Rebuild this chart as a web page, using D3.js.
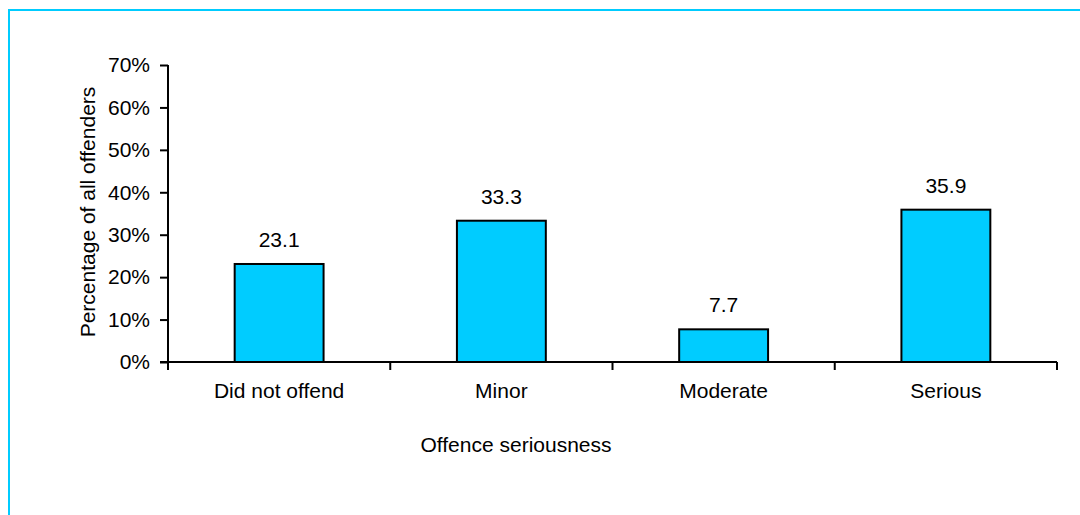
<!DOCTYPE html>
<meta charset="utf-8">
<style>
body{ margin:0; background:#fff; }
text{ font-family:"Liberation Sans", Arial, sans-serif; font-size:21px; fill:#000; }
.axis path, .axis line{ stroke:#000; stroke-width:2px; }
.axis text{ font-size:21px; font-family:"Liberation Sans", Arial, sans-serif; }
</style>
<body>
<script src="https://d3js.org/d3.v7.min.js"></script>
<script>
// chart data
var categories = ["Did not offend", "Minor", "Moderate", "Serious"];
var values = [23.1, 33.3, 7.7, 35.9];
var yTicks = [0, 10, 20, 30, 40, 50, 60, 70];

var width = 1080, height = 515;
var svg = d3.select("body").append("svg").attr("width", width).attr("height", height);

// light blue frame, top and left
svg.append("line").attr("x1", 9).attr("x2", width).attr("y1", 10).attr("y2", 10)
   .style("stroke", "#00ccff").style("stroke-width", 2);
svg.append("line").attr("x1", 9).attr("x2", 9).attr("y1", 9).attr("y2", height)
   .style("stroke", "#00ccff").style("stroke-width", 2);

var plotL = 168, plotR = 1057, plotT = 65, plotB = 362;

var x = d3.scaleBand().domain(categories).range([plotL, plotR]).padding(0);
var y = d3.scaleLinear().domain([0, 70]).range([plotB, plotT]);

var g = svg.append("g");

// bars
g.selectAll("rect.bar").data(values).enter().append("rect")
   .attr("class", "bar")
   .attr("x", (d, i) => x(categories[i]) + x.bandwidth() * 0.3)
   .attr("width", x.bandwidth() * 0.4)
   .attr("y", d => y(d))
   .attr("height", d => y(0) - y(d))
   .style("fill", "#00ccff").style("stroke", "#000").style("stroke-width", 2);

// value labels
g.selectAll("text.val").data(values).enter().append("text")
   .attr("class", "val")
   .attr("x", (d, i) => x(categories[i]) + x.bandwidth() / 2)
   .attr("y", d => y(d) - 17)
   .attr("text-anchor", "middle")
   .text(d => d.toFixed(1));

// y axis
var yAxis = d3.axisLeft(y).tickValues(yTicks).tickSize(8).tickPadding(10)
   .tickFormat(d => d + "%");
g.append("g").attr("class", "axis").attr("transform", "translate(" + plotL + ",0)")
   .call(yAxis).call(s => s.select(".domain").attr("d", "M0," + plotT + "V" + plotB));

// x axis: ticks on category boundaries
var xa = g.append("g").attr("class", "axis");
xa.append("line").attr("x1", plotL - 8).attr("x2", plotR).attr("y1", plotB).attr("y2", plotB);
var bounds = categories.map(c => x(c)).concat([plotR]);
xa.selectAll("line.tk").data(bounds).enter().append("line").attr("class", "tk")
   .attr("x1", d => d).attr("x2", d => d).attr("y1", plotB).attr("y2", plotB + 8);
xa.selectAll("text").data(categories).enter().append("text")
   .attr("x", d => x(d) + x.bandwidth() / 2)
   .attr("y", plotB + 36)
   .attr("text-anchor", "middle")
   .text(d => d);

// axis titles
svg.append("text").attr("x", 516).attr("y", 452)
   .attr("text-anchor", "middle").text("Offence seriousness");
svg.append("text").attr("transform", "translate(95,212) rotate(-90)")
   .attr("text-anchor", "middle").text("Percentage of all offenders");
</script>
</body>
